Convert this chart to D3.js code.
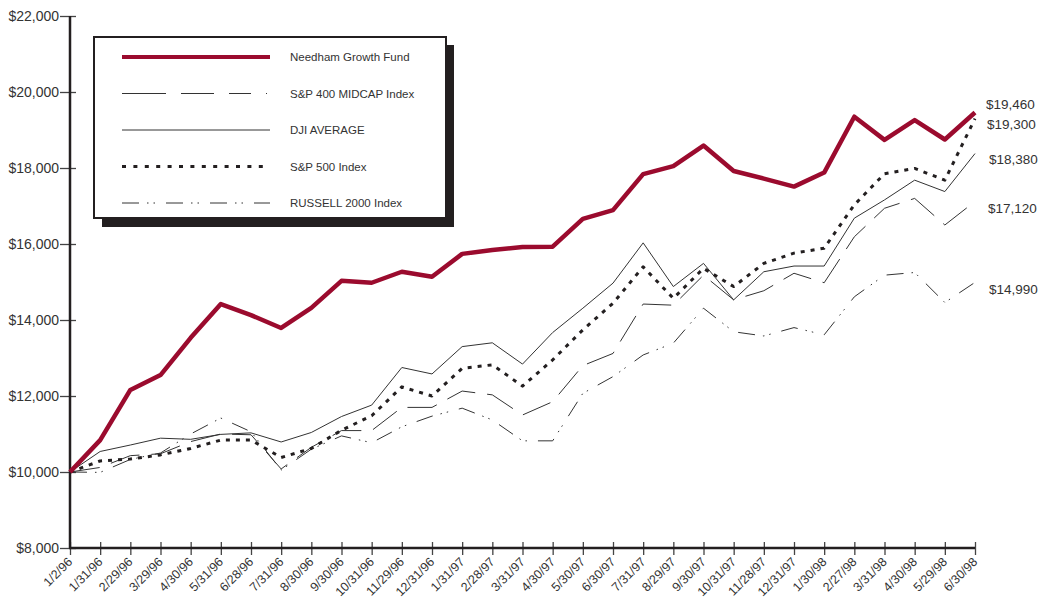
<!DOCTYPE html>
<html>
<head>
<meta charset="utf-8">
<script src="https://cdn.jsdelivr.net/npm/d3@7"></script>
<style>
  body { margin: 0; background: #fff; }
  svg text { font-family: "Liberation Sans", Arial, sans-serif; fill: #333; }
</style>
</head>
<body>
<div id="chart"></div>
<script>
// data
var dates = ["1/2/96","1/31/96","2/29/96","3/29/96","4/30/96","5/31/96","6/28/96","7/31/96","8/30/96","9/30/96",
  "10/31/96","11/29/96","12/31/96","1/31/97","2/28/97","3/31/97","4/30/97","5/30/97","6/30/97","7/31/97",
  "8/29/97","9/30/97","10/31/97","11/28/97","12/31/97","1/30/98","2/27/98","3/31/98","4/30/98","5/29/98","6/30/98"];

var needham = [10000,10840,12160,12550,13530,14420,14130,13790,14320,15030,14980,15270,15140,15740,15840,15920,
  15930,16660,16890,17840,18050,18590,17920,17720,17510,17880,19350,18740,19260,18750,19460];
var midcap = [10000,10120,10430,10480,10800,11000,10980,10080,10650,11090,11090,11700,11700,12130,12030,11500,
  11850,12800,13120,14420,14390,15180,14530,14770,15230,14980,16190,16940,17200,16500,17120];
var dji = [10000,10540,10710,10890,10860,10990,11030,10790,11040,11460,11760,12750,12580,13300,13400,12840,
  13670,14310,14970,16030,14880,15490,14530,15270,15420,15420,16680,17160,17680,17380,18380];
var sp500 = [10000,10290,10340,10450,10620,10840,10840,10380,10620,11100,11480,12240,12000,12730,12820,12260,
  12950,13740,14440,15400,14570,15360,14880,15490,15760,15890,17030,17850,17990,17680,19300];
var russell = [10000,9990,10330,10500,11000,11420,11060,10050,10600,10950,10770,11190,11470,11680,11370,10820,
  10820,12070,12510,13080,13390,14310,13690,13580,13800,13610,14610,15180,15250,14460,14990];

var seriesNames = ["Needham Growth Fund","S&P 400 MIDCAP Index","DJI AVERAGE","S&P 500 Index","RUSSELL 2000 Index"];
var yTicks = [8000,10000,12000,14000,16000,18000,20000,22000];

var W = 1041, H = 601;
var svg = d3.select("#chart").append("svg")
    .attr("width", W)
    .attr("height", H);

// scales
var x = d3.scalePoint().domain(dates).range([70, 975]);
var y = d3.scaleLinear().domain([8000, 22000]).range([548, 16]);

var ink = "#231f20";
var styles = [
  {data: needham, color: "#9b0b2e", width: 4.5, dash: null, legendDash: null},
  {data: midcap, color: "#333", width: 1, dash: "30,12", legendDash: "44,15,33,15,22,15,1,40"},
  {data: dji, color: "#333", width: 1, dash: null, legendDash: null},
  {data: sp500, color: ink, width: 3, dash: "4,6", legendDash: "4,7.4"},
  {data: russell, color: "#333", width: 1, dash: "17,8,1.5,5,1.5,11", legendDash: "17,8,1.5,5,1.5,11"}
];

// legend with drop shadow
var lg = svg.append("g");
lg.append("rect").attr("x", 102).attr("y", 45).attr("width", 352).attr("height", 182).attr("fill", ink);
lg.append("rect").attr("x", 94).attr("y", 37).attr("width", 352).attr("height", 181)
  .attr("fill", "#fff").attr("stroke", ink).attr("stroke-width", 2);

var rows = lg.selectAll("g.row").data(styles).enter().append("g")
  .attr("class", "row")
  .attr("transform", function(d, i) { return "translate(0," + (57 + i * 36.5) + ")"; });
rows.append("line")
  .attr("x1", 122).attr("x2", 270)
  .attr("stroke", function(d) { return d.color; })
  .attr("stroke-width", function(d, i) { return i == 0 ? 4 : d.width; })
  .attr("stroke-dasharray", function(d) { return d.legendDash; });
rows.append("text")
  .attr("x", 290).attr("y", 4)
  .style("font-size", "11.5px")
  .text(function(d, i) { return seriesNames[i]; });

// axes
var yAxis = d3.axisLeft(y).tickValues(yTicks).tickSize(10).tickPadding(1).tickFormat(d3.format("$,"));
var yG = svg.append("g").attr("transform", "translate(70,0)").call(yAxis);
yG.select(".domain").remove();
yG.selectAll(".tick line").attr("x1", 6).attr("stroke", "#444").attr("stroke-width", 1.3);
yG.selectAll(".tick text").style("font-size", "14px").attr("fill", "#333");

var xAxis = d3.axisBottom(x).tickSize(7).tickPadding(4);
var xG = svg.append("g").attr("transform", "translate(0,548)").call(xAxis);
xG.select(".domain").remove();
xG.selectAll(".tick line").attr("y1", -6).attr("stroke", "#444").attr("stroke-width", 1.3);
xG.selectAll(".tick text")
  .style("font-size", "12.5px")
  .style("text-anchor", "end")
  .attr("fill", "#333")
  .attr("dy", "0.3em")
  .attr("transform", "translate(0,12) rotate(-45)")
  .attr("y", 0).attr("x", 0);

// axis lines
svg.append("line").attr("x1", 70).attr("x2", 70).attr("y1", y(22000)).attr("y2", y(8000))
  .attr("stroke", ink).attr("stroke-width", 2.5);
svg.append("line").attr("x1", 69).attr("x2", x(dates[dates.length - 1])).attr("y1", y(8000)).attr("y2", y(8000))
  .attr("stroke", ink).attr("stroke-width", 2.5);

// series lines, Needham drawn last so it sits on top
var line = d3.line()
  .x(function(d, i) { return x(dates[i]); })
  .y(function(d) { return y(d); });

var order = [2, 1, 4, 3, 0];
order.forEach(function(k) {
  var s = styles[k];
  svg.append("path")
    .attr("d", line(s.data))
    .attr("fill", "none")
    .attr("stroke", s.color)
    .attr("stroke-width", s.width)
    .attr("stroke-linejoin", "round")
    .attr("stroke-dasharray", s.dash);
});

// end value labels, nudged so they don't overlap
var labelOffset = [-8, 7, 6, 6, 7];
var labelX = [986, 988, 989, 987, 989];
[0, 3, 2, 1, 4].forEach(function(k) {
  var last = styles[k].data[styles[k].data.length - 1];
  svg.append("text")
    .attr("x", labelX[k])
    .attr("y", y(last) + labelOffset[k])
    .attr("dy", "0.35em")
    .style("font-size", "13.5px")
    .text(d3.format("$,")(last));
});
</script>
</body>
</html>
